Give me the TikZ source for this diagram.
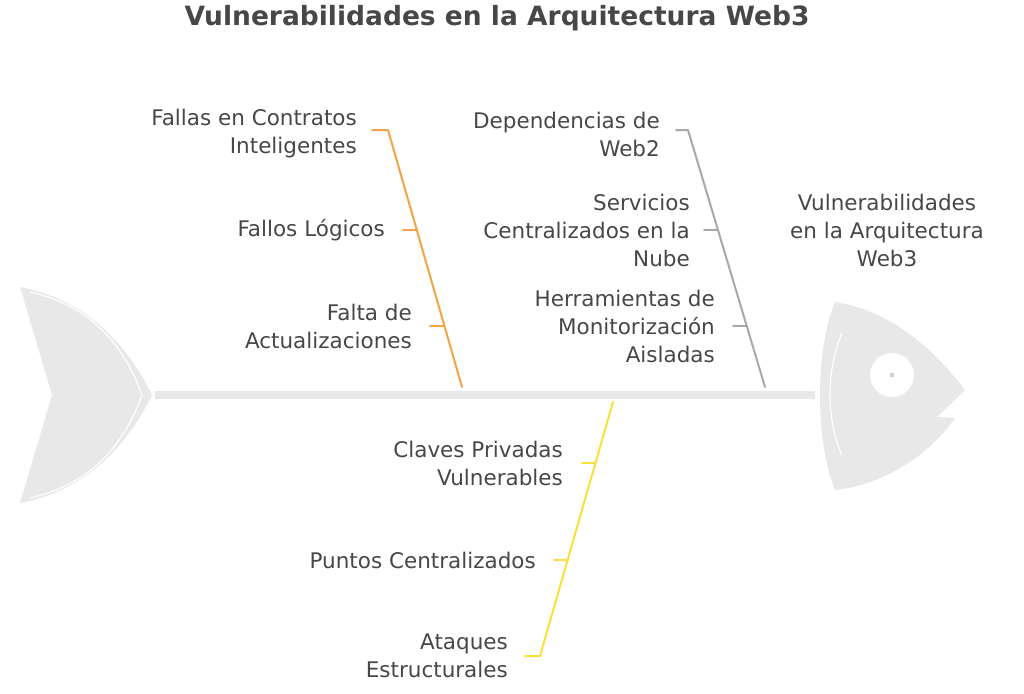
\documentclass[tikz,border=0pt]{standalone}
\usepackage{fontspec}
\setmainfont{DejaVu Sans}
\begin{document}
\begin{tikzpicture}[x=1pt,y=-1pt,
  lbl/.style={text=txt,font=\fontsize{21.5}{28}\selectfont,align=right,anchor=east,inner sep=0},
  bone/.style={line width=2pt,line cap=round,line join=round}]
\definecolor{txt}{HTML}{474747}
\definecolor{fish}{HTML}{E8E8E8}
\definecolor{org}{HTML}{F5A347}
\definecolor{gry}{HTML}{A8A8A8}
\definecolor{yel}{HTML}{F7E03C}
\useasboundingbox (0,0) rectangle (1024,693);
% spine
\fill[fish] (155,391) rectangle (815,399);
% tail
\fill[fish] (20,287) .. controls (90,300) and (130,350) .. (152,395) .. controls (130,440) and (90,490) .. (20,503) -- (52,395) -- cycle;
\draw[white,line width=1.2pt] (30,292) .. controls (94,306) and (126,350) .. (142,395) .. controls (126,440) and (94,484) .. (30,498);
% head
\fill[fish] (835,302) .. controls (890,310) and (935,350) .. (965,390) -- (937,417) -- (955,418) .. controls (925,460) and (880,485) .. (835,490) .. controls (815,440) and (815,350) .. (835,302) -- cycle;
\draw[white,line width=1.2pt] (842,333) .. controls (826,370) and (826,420) .. (842,455);
\fill[white] (892,375) circle (22);
\fill[fish!80!gray] (892,375) circle (2.5);
% title
\node[text=txt,font=\fontsize{26.5}{30}\selectfont\bfseries] (title) at (497,18) {Vulnerabilidades en la Arquitectura Web3};
\node[text=txt,font=\fontsize{21.5}{28}\selectfont,align=center] (head) at (887,230) {Vulnerabilidades\\en la Arquitectura\\Web3};
% orange
\coordinate (o0) at (372,130); \coordinate (o1) at (388,130); \coordinate (o2) at (462,387);
\draw[bone,org] (o0) -- (o1) -- (o2);
\draw[bone,org] (403,230) -- (417,230);
\draw[bone,org] (430,326) -- (444,326);
\node[lbl] (a1) at (357,134) {Fallas en Contratos\\Inteligentes};
\node[lbl] (a2) at (385,230) {Fallos Lógicos};
\node[lbl] (a3) at (412,326) {Falta de\\Actualizaciones};
% gray
\coordinate (g0) at (676,130); \coordinate (g1) at (688,130); \coordinate (g2) at (765,387);
\draw[bone,gry] (g0) -- (g1) -- (g2);
\draw[bone,gry] (704,230) -- (718,230);
\draw[bone,gry] (733,326) -- (747,326);
\node[lbl] (b1) at (660,134) {Dependencias de\\Web2};
\node[lbl] (b2) at (690,230) {Servicios\\Centralizados en la\\Nube};
\node[lbl] (b3) at (715,326) {Herramientas de\\Monitorización\\Aisladas};
% yellow
\coordinate (y0) at (613,402); \coordinate (y1) at (540,656); \coordinate (y2) at (525,656);
\draw[bone,yel] (y0) -- (y1) -- (y2);
\draw[bone,yel] (582,463) -- (595,463);
\draw[bone,yel] (554,560) -- (568,560);
\node[lbl] (c1) at (563,463) {Claves Privadas\\Vulnerables};
\node[lbl] (c2) at (536,560) {Puntos Centralizados};
\node[lbl] (c3) at (508,656) {Ataques\\Estructurales};
\end{tikzpicture}
\end{document}
